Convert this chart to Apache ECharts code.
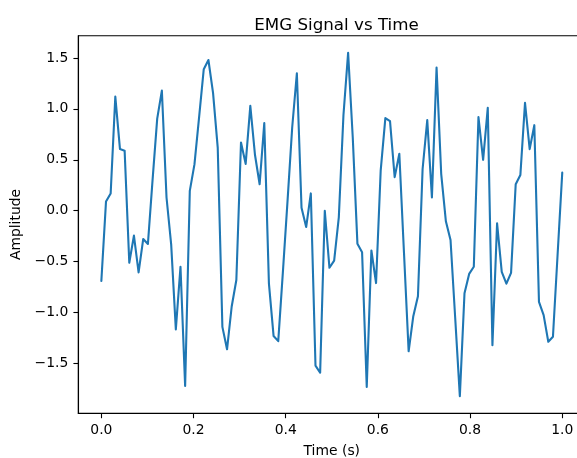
<!DOCTYPE html>
<html>
<head>
<meta charset="utf-8">
<script src="https://cdn.jsdelivr.net/npm/echarts@6/dist/echarts.min.js"></script>
<style>
html,body{margin:0;padding:0;background:#fff;}
#c{width:577px;height:458px;}
</style>
</head>
<body>
<div id="c"></div>
<script>
const timeValues = [0, 0.0101, 0.0202, 0.0303, 0.0404, 0.0505, 0.0606, 0.0707, 0.0808, 0.0909,
  0.1010, 0.1111, 0.1212, 0.1313, 0.1414, 0.1515, 0.1616, 0.1717, 0.1818, 0.1919,
  0.2020, 0.2121, 0.2222, 0.2323, 0.2424, 0.2525, 0.2626, 0.2727, 0.2828, 0.2929,
  0.3030, 0.3131, 0.3232, 0.3333, 0.3434, 0.3535, 0.3636, 0.3737, 0.3838, 0.3939,
  0.4040, 0.4141, 0.4242, 0.4343, 0.4444, 0.4545, 0.4646, 0.4747, 0.4848, 0.4949,
  0.5051, 0.5152, 0.5253, 0.5354, 0.5455, 0.5556, 0.5657, 0.5758, 0.5859, 0.5960,
  0.6061, 0.6162, 0.6263, 0.6364, 0.6465, 0.6566, 0.6667, 0.6768, 0.6869, 0.6970,
  0.7071, 0.7172, 0.7273, 0.7374, 0.7475, 0.7576, 0.7677, 0.7778, 0.7879, 0.7980,
  0.8081, 0.8182, 0.8283, 0.8384, 0.8485, 0.8586, 0.8687, 0.8788, 0.8889, 0.8990,
  0.9091, 0.9192, 0.9293, 0.9394, 0.9495, 0.9596, 0.9697, 0.9798, 0.9899, 1.0];

const amplitudeValues = [-0.69, 0.09, 0.17, 1.12, 0.605, 0.59, -0.51, -0.244, -0.605, -0.277,
  -0.326, 0.3, 0.905, 1.18, 0.13, -0.33, -1.165, -0.55, -1.72, 0.195,
  0.455, 0.92, 1.39, 1.48, 1.155, 0.62, -1.14, -1.36, -0.94, -0.68,
  0.67, 0.46, 1.03, 0.55, 0.26, 0.86, -0.716, -1.23, -1.28, -0.6,
  0.1, 0.82, 1.35, 0.03, -0.16, 0.17, -1.52, -1.59, 0.0, -0.56,
  -0.49, -0.065, 0.94, 1.55, 0.716, -0.325, -0.407, -1.73, -0.39, -0.71,
  0.397, 0.91, 0.88, 0.33, 0.56, -0.41, -1.38, -1.035, -0.84, 0.41,
  0.89, 0.13, 1.406, 0.36, -0.104, -0.287, -1.05, -1.82, -0.81, -0.62,
  -0.55, 0.92, 0.50, 1.01, -1.32, -0.124, -0.60, -0.716, -0.61, 0.26,
  0.35, 1.06, 0.605, 0.84, -0.895, -1.025, -1.286, -1.237, -0.43, 0.374];

const xTickValues = [0, 0.2, 0.4, 0.6, 0.8, 1.0];
const yTickValues = [-1.5, -1.0, -0.5, 0.0, 0.5, 1.0, 1.5];

const titleText = 'EMG Signal vs Time';
const xLabel = 'Time (s)';
const yLabel = 'Amplitude';

const fmt = v => v.toFixed(1).replace('-', '\u2212');
const font = 'DejaVu Sans';

const chart = echarts.init(document.getElementById('c'), null, {renderer: 'canvas'});
chart.setOption({
  animation: false,
  backgroundColor: '#ffffff',
  title: {
    text: titleText,
    left: 331.5,
    textAlign: 'center',
    top: 12,
    textStyle: {fontFamily: font, fontSize: 16.7, fontWeight: 'normal', color: '#000'}
  },
  grid: {
    left: 78.3, top: 35.7, width: 507, height: 377.6,
    outerBoundsMode: 'none',
    containLabel: false,
    show: true, borderColor: '#000', borderWidth: 1.1, backgroundColor: 'transparent'
  },
  xAxis: {
    type: 'value',
    min: -0.05, max: 1.05,
    name: xLabel,
    nameLocation: 'middle',
    nameGap: 31,
    nameTextStyle: {fontFamily: font, fontSize: 13.9, color: '#000'},
    axisLine: {show: true, onZero: false, lineStyle: {color: '#000', width: 1.1}},
    axisTick: {show: true, length: 4.9, customValues: xTickValues, lineStyle: {color: '#000', width: 1.1}},
    axisLabel: {customValues: xTickValues, formatter: fmt, margin: 10, fontFamily: font, fontSize: 13.9, color: '#000'},
    splitLine: {show: false}
  },
  yAxis: {
    type: 'value',
    min: -1.9885, max: 1.7185,
    name: yLabel,
    nameLocation: 'middle',
    nameGap: 49,
    nameTextStyle: {fontFamily: font, fontSize: 13.9, color: '#000'},
    axisLine: {show: true, onZero: false, lineStyle: {color: '#000', width: 1.1}},
    axisTick: {show: true, length: 4.9, customValues: yTickValues, lineStyle: {color: '#000', width: 1.1}},
    axisLabel: {customValues: yTickValues, formatter: fmt, margin: 10, fontFamily: font, fontSize: 13.9, color: '#000'},
    splitLine: {show: false}
  },
  series: [{
    type: 'line',
    data: timeValues.map((t, i) => [t, amplitudeValues[i]]),
    showSymbol: false,
    symbol: 'none',
    lineStyle: {color: '#1f77b4', width: 2.1, join: 'round', cap: 'round'},
    clip: true
  }]
});
</script>
</body>
</html>
